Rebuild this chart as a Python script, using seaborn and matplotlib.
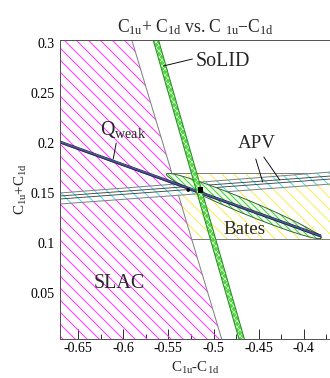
import numpy as np
import pandas as pd
import matplotlib
matplotlib.use("Agg")
import matplotlib.pyplot as plt
import seaborn as sns

# ---------------- data ----------------
x_lim = [-0.67, -0.37]
y_lim = [0.004, 0.303]
x_ticks = [-0.65, -0.6, -0.55, -0.5, -0.45, -0.4]
x_ticklabels = ["-0.65", "-0.6", "-0.55", "-0.5", "-0.45", "-0.4"]
y_ticks = [0.05, 0.1, 0.15, 0.2, 0.25, 0.3]
y_ticklabels = ["0.05", "0.1", "0.15", "0.2", "0.25", "0.3"]

# SLAC boundary (C1u-C1d as function of C1u+C1d)
slac_y = [0.004, 0.303]
slac_x = [-0.491, -0.5905]
# SoLID band: centre line and half width in C1u-C1d
solid_y = [0.004, 0.303]
solid_x = [-0.4689, -0.5639]
solid_hw = 0.003
# Qweak band
qweak_x = [-0.67, -0.381]
qweak_y = [0.201, 0.107]
qweak_hw = 0.0011
# APV bands
apv_x = [-0.67, -0.37]
apv_lo = [0.139, 0.159]
apv_hi = [0.150, 0.171]
apv2_mid = [0.1455, 0.1655]
apv2_hw = 0.0015
# Bates box
bates_y = [0.104, 0.170]
# combined ellipse: centre and conjugate half-axes
ell_center = [-0.4667, 0.137]
ell_a = [0.0856, -0.032]
ell_b = [-0.0030, -0.0065]
# points
sm_point = [-0.528, 0.153]
fit_point = [-0.5144, 0.153]

# ---------------- style ----------------
sns.set_style("ticks")
plt.rcParams["font.family"] = ["Liberation Serif", "DejaVu Serif"]
plt.rcParams["mathtext.default"] = "regular"
plt.rcParams["hatch.linewidth"] = 1.0

fig = plt.figure(figsize=(330 / 72, 378 / 72), dpi=72)
ax = fig.add_axes([60 / 330, 39 / 378, 271 / 330, 299 / 378])
ax.set_xlim(x_lim)
ax.set_ylim(y_lim)

gray = "#808080"

# SLAC region
ax.fill_betweenx(slac_y, x_lim[0], slac_x, facecolor="none", edgecolor="#ff33ff",
                 hatch="\\\\", linewidth=0, zorder=1)
sns.lineplot(x=slac_x, y=slac_y, sort=False, color=gray, lw=1.0, ax=ax, zorder=2)

# Bates box
bx = np.interp(bates_y, slac_y, slac_x)
ax.fill_betweenx(bates_y, bx, x_lim[1], facecolor="none", edgecolor="#f7ea5a",
                 hatch="\\\\", linewidth=0, zorder=1)
for yy, xx in zip(bates_y, bx):
    sns.lineplot(x=[xx, x_lim[1]], y=[yy, yy], color=gray, lw=1.0, ax=ax, zorder=2)

# APV wide band
ax.fill_between(apv_x, apv_lo, apv_hi, facecolor="white", edgecolor="#44e0e0",
                hatch="\\\\", linewidth=0, zorder=3)
sns.lineplot(x=apv_x, y=apv_lo, color=gray, lw=1.0, ax=ax, zorder=4)
sns.lineplot(x=apv_x, y=apv_hi, color=gray, lw=1.0, ax=ax, zorder=4)
# APV narrow band
a2lo = np.array(apv2_mid) - apv2_hw
a2hi = np.array(apv2_mid) + apv2_hw
sns.lineplot(x=apv_x, y=a2lo, color="#444444", lw=0.9, ax=ax, zorder=4)
sns.lineplot(x=apv_x, y=a2hi, color="#444444", lw=0.9, ax=ax, zorder=4)

# combined ellipse
t = np.linspace(0, 2 * np.pi, 300)
ex = ell_center[0] + np.cos(t) * ell_a[0] + np.sin(t) * ell_b[0]
ey = ell_center[1] + np.cos(t) * ell_a[1] + np.sin(t) * ell_b[1]
ax.fill(ex, ey, facecolor="#eefae6", edgecolor="#44cc44", hatch="\\\\\\\\", linewidth=0, zorder=5)
ax.plot(ex, ey, color="#2e5a2e", lw=0.9, zorder=6)

# Qweak band
qlo = np.array(qweak_y) - qweak_hw
qhi = np.array(qweak_y) + qweak_hw
ax.fill_between(qweak_x, qlo, qhi, facecolor="#4b5596", linewidth=0, zorder=7)
sns.lineplot(x=qweak_x, y=qlo, color="#1e2250", lw=0.8, ax=ax, zorder=8)
sns.lineplot(x=qweak_x, y=qhi, color="#1e2250", lw=0.8, ax=ax, zorder=8)

# SoLID band
slo = np.array(solid_x) - solid_hw
shi = np.array(solid_x) + solid_hw
with plt.rc_context({"hatch.linewidth": 0.7}):
    ax.fill_betweenx(solid_y, slo, shi, facecolor="#4fd63f", edgecolor="#d8ffd0",
                     hatch="xxxx", linewidth=0, zorder=9)
sns.lineplot(x=slo, y=solid_y, sort=False, color="#2a8a2a", lw=1.0, ax=ax, zorder=10)
sns.lineplot(x=shi, y=solid_y, sort=False, color="#2a8a2a", lw=1.0, ax=ax, zorder=10)

# points
sns.scatterplot(x=[sm_point[0]], y=[sm_point[1]], color="black", s=14, marker="o",
                edgecolor="none", ax=ax, zorder=12)
sns.scatterplot(x=[fit_point[0]], y=[fit_point[1]], color="black", s=30, marker="s",
                edgecolor="none", ax=ax, zorder=12)

# labels with leader lines
ax.text(-0.490, 0.282, "SoLID", fontsize=20, ha="center", va="center", zorder=20)
ax.plot([-0.5556, -0.5233], [0.277, 0.284], color="black", lw=0.9, zorder=20)
ax.text(-0.6044, 0.060, "SLAC", fontsize=20, ha="center", va="center", zorder=20)
ax.text(-0.4661, 0.113, "Bates", fontsize=19, ha="center", va="center", zorder=20)
ax.text(-0.4522, 0.200, "APV", fontsize=19, ha="center", va="center", zorder=20)
ax.plot([-0.4533, -0.4456], [0.184, 0.161], color="black", lw=0.9, zorder=20)
ax.plot([-0.4444, -0.4267], [0.186, 0.163], color="black", lw=0.9, zorder=20)
ax.text(-0.600, 0.213, "Q$_{weak}$", fontsize=20, ha="center", va="center", zorder=20)
ax.plot([-0.6078, -0.6111], [0.200, 0.184], color="black", lw=0.9, zorder=20)

# axes cosmetics
ax.set_xticks(x_ticks)
ax.set_xticklabels(x_ticklabels)
ax.set_yticks(y_ticks)
ax.set_yticklabels(y_ticklabels)
ax.xaxis.set_minor_locator(matplotlib.ticker.MultipleLocator(0.025))
ax.tick_params(axis="x", which="both", direction="in", top=False, colors="#333333",
               labelcolor="black", labelsize=14, width=1.0)
ax.tick_params(axis="x", which="major", length=10)
ax.tick_params(axis="x", which="minor", length=5)
ax.tick_params(axis="y", which="both", length=0, labelsize=14, labelcolor="black", pad=5)
for sp in ax.spines.values():
    sp.set_color("#555555")
    sp.set_linewidth(1.0)
    sp.set_zorder(30)
ax.set_xlabel("C$_{1u}$-C$_{1d}$", fontsize=15, labelpad=4)
ax.set_ylabel("C$_{1u}$+C$_{1d}$", fontsize=15, labelpad=2)
ax.set_title("C$_{1u}$+ C$_{1d}$ vs. C $_{1u}$$-$C$_{1d}$", fontsize=17.5, pad=8)

fig.savefig("out.png", dpi=72)
